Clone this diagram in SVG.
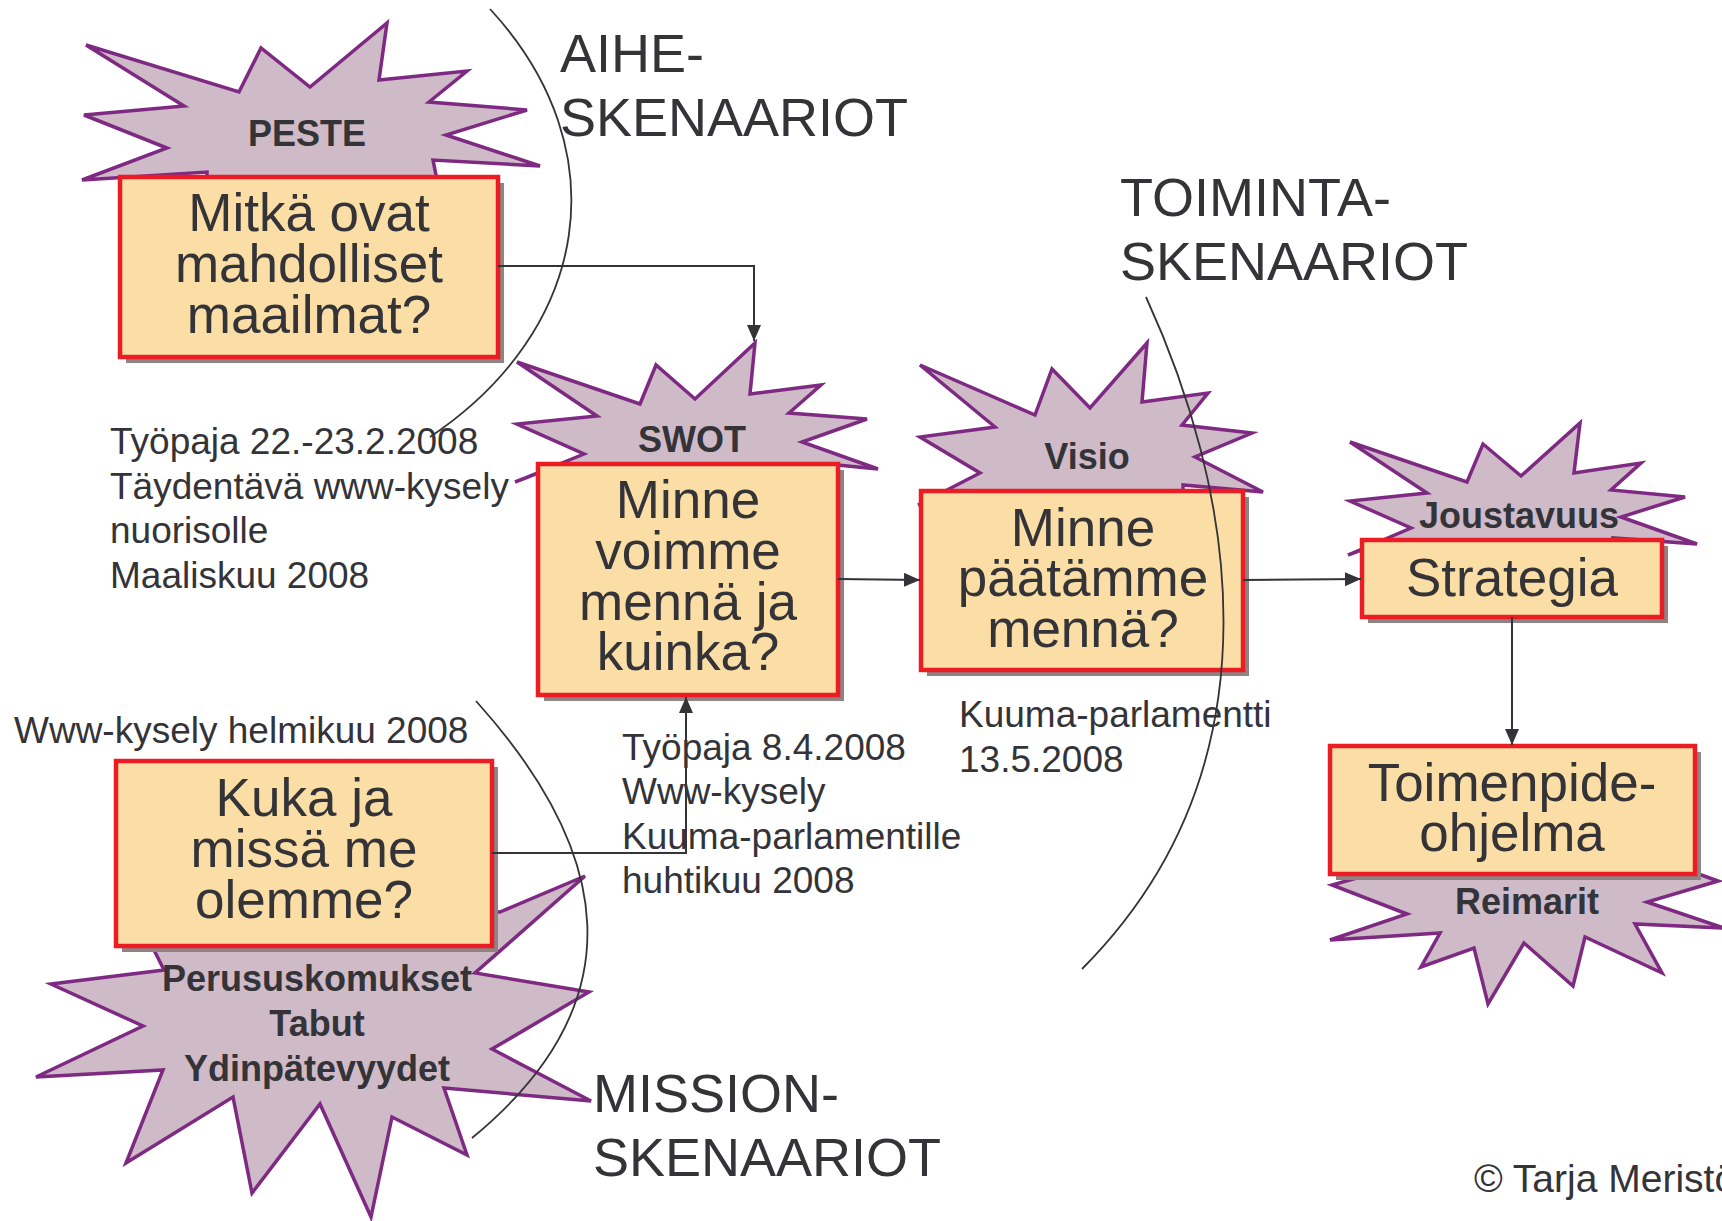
<svg xmlns="http://www.w3.org/2000/svg" width="1722" height="1221" viewBox="0 0 1722 1221">
<style>
.star{fill:#cfbac8;stroke:#7e2a82;stroke-width:3.5;stroke-linejoin:miter}
.shadow{fill:#8f8383}
.box{fill:#fbdea5;stroke:#ec1c24;stroke-width:4.5}
.big{font-family:"Liberation Sans",Arial,sans-serif;font-size:53px;fill:#333338;text-anchor:middle}
.lbl{font-family:"Liberation Sans",Arial,sans-serif;font-size:36px;font-weight:bold;fill:#333338;text-anchor:middle}
.note{font-family:"Liberation Sans",Arial,sans-serif;font-size:37px;fill:#333338}
.head{font-family:"Liberation Sans",Arial,sans-serif;font-size:54px;fill:#333338}
.conn{fill:none;stroke:#333338;stroke-width:2}
.curve{fill:none;stroke:#333338;stroke-width:1.8}
</style>
<defs>
<marker id="arr" markerUnits="userSpaceOnUse" markerWidth="18" markerHeight="16" refX="16" refY="7" orient="auto">
<path d="M0,0 L16,7 L0,14 Z" fill="#333338"/>
</marker>
</defs>

<g id="node-peste">
<polygon class="star" points="86,45 239,92 261,48 310,87 387,23 379,80 467,71 429,102 527,110 446,135 540,166 433,160 441,200 207,200 207,172 82,180 167,148 84,115 184,106"/>
<rect class="shadow" x="126" y="183" width="378" height="180"/>
<rect class="box" x="120" y="177" width="378" height="180"/>
<text class="lbl" x="307" y="146">PESTE</text>
<text class="big" x="309" y="231">Mitkä ovat</text>
<text class="big" x="309" y="282">mahdolliset</text>
<text class="big" x="309" y="333">maailmat?</text>
</g>

<g id="node-swot">
<polygon class="star" points="517,362 640,404 656,365 695,399 755,343 750,394 821,385 789,413 867,419 802,442 878,469 837,465 837,500 538,500 538,473 515,482 584,454 517,424 597,416"/>
<rect class="shadow" x="544" y="470" width="300" height="231"/>
<rect class="box" x="538" y="464" width="300" height="231"/>
<text class="lbl" x="692" y="452">SWOT</text>
<text class="big" x="688" y="518">Minne</text>
<text class="big" x="688" y="569">voimme</text>
<text class="big" x="688" y="620">mennä ja</text>
<text class="big" x="688" y="670">kuinka?</text>
</g>

<g id="node-visio">
<polygon class="star" points="920,365 1035,415 1052,369 1090,408 1147,343 1142,402 1208,393 1182,425 1252,433 1195,457 1263,492 1183,485 1183,520 952,520 952,493 918,505 980,473 920,437 995,427"/>
<rect class="shadow" x="927" y="497" width="322" height="179"/>
<rect class="box" x="921" y="491" width="322" height="179"/>
<text class="lbl" x="1087" y="469">Visio</text>
<text class="big" x="1083" y="546">Minne</text>
<text class="big" x="1083" y="596">päätämme</text>
<text class="big" x="1083" y="647">mennä?</text>
</g>

<g id="node-strategia">
<polygon class="star" points="1350,442 1467,482 1483,444 1521,476 1580,423 1574,473 1641,463 1611,490 1685,497 1621,517 1697,544 1613,538 1613,560 1369,560 1369,547 1348,555 1411,528 1350,501 1427,493"/>
<rect class="shadow" x="1368" y="546" width="300" height="77"/>
<rect class="box" x="1362" y="540" width="300" height="77"/>
<text class="lbl" x="1519" y="528">Joustavuus</text>
<text class="big" x="1512" y="596">Strategia</text>
</g>

<g id="node-toimenpide">
<polygon class="star" points="1420,860 1332,885 1407,914 1330,940 1440,933 1421,967 1474,948 1488,1004 1524,943 1573,986 1585,937 1662,973 1635,924 1724,928 1647,902 1718,881 1660,860"/>
<rect class="shadow" x="1336" y="752" width="365" height="128"/>
<rect class="box" x="1330" y="746" width="365" height="128"/>
<text class="lbl" x="1527" y="914">Reimarit</text>
<text class="big" x="1512" y="801">Toimenpide-</text>
<text class="big" x="1512" y="851">ohjelma</text>
</g>

<g id="node-kuka">
<polygon class="star" points="500,912 585,876 475,973 589,992 492,1049 591,1101 444,1088 467,1155 392,1117 371,1217 320,1104 252,1193 233,1097 126,1163 163,1070 36,1077 143,1026 51,984 164,970 149,940 300,900"/>
<rect class="shadow" x="122" y="767" width="376" height="185"/>
<rect class="box" x="116" y="761" width="376" height="185"/>
<text class="big" x="304" y="816">Kuka ja</text>
<text class="big" x="304" y="867">missä me</text>
<text class="big" x="304" y="918">olemme?</text>
<text class="lbl" x="317" y="991">Perususkomukset</text>
<text class="lbl" x="317" y="1036">Tabut</text>
<text class="lbl" x="317" y="1081">Ydinpätevyydet</text>
</g>

<g id="notes">
<text class="note" x="110" y="454">Työpaja 22.-23.2.2008</text>
<text class="note" x="110" y="499">Täydentävä www-kysely</text>
<text class="note" x="110" y="543">nuorisolle</text>
<text class="note" x="110" y="588">Maaliskuu 2008</text>
<text class="note" x="14" y="743">Www-kysely helmikuu 2008</text>
<text class="note" x="622" y="760">Työpaja 8.4.2008</text>
<text class="note" x="622" y="804">Www-kysely</text>
<text class="note" x="622" y="849">Kuuma-parlamentille</text>
<text class="note" x="622" y="893">huhtikuu 2008</text>
<text class="note" x="959" y="727">Kuuma-parlamentti</text>
<text class="note" x="959" y="772">13.5.2008</text>
<text class="note" x="1474" y="1192" style="font-size:39px">© Tarja Meristö</text>
</g>

<g id="headings">
<text class="head" x="560" y="72">AIHE-</text>
<text class="head" x="560" y="136">SKENAARIOT</text>
<text class="head" x="1120" y="216">TOIMINTA-</text>
<text class="head" x="1120" y="280">SKENAARIOT</text>
<text class="head" x="593" y="1112">MISSION-</text>
<text class="head" x="593" y="1176">SKENAARIOT</text>
</g>

<g id="connectors">
<path class="conn" d="M498,266 H754 V341" marker-end="url(#arr)"/>
<path class="conn" d="M838,579 L920,580" marker-end="url(#arr)"/>
<path class="conn" d="M1243,580 L1361,579" marker-end="url(#arr)"/>
<path class="conn" d="M1512,617 V745" marker-end="url(#arr)"/>
<path class="conn" d="M492,853 H686 V697" marker-end="url(#arr)"/>
<path class="curve" d="M490,9 C620,150 590,330 430,437"/>
<path class="curve" d="M1146,297 C1230,480 1290,760 1082,969"/>
<path class="curve" d="M476,701 C610,850 640,1000 472,1138"/>
</g>
</svg>
